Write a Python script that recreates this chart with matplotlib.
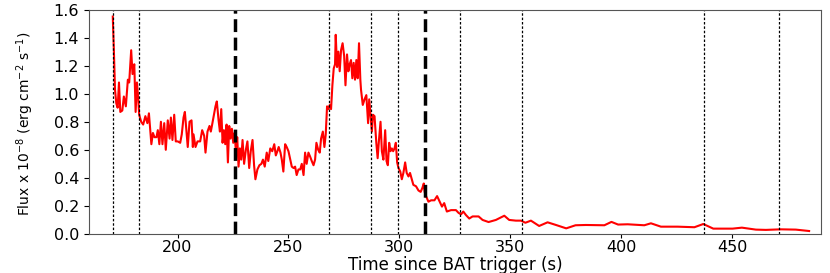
import numpy as np
import matplotlib
matplotlib.use('Agg')
import matplotlib.pyplot as plt

# light curve (time in s, flux in 1e-8 erg/cm2/s)
time = [170.8, 171.3, 171.8, 172.4, 173.0, 173.6, 174.2, 175.1, 175.8, 176.7,
        177.6, 178.2, 179.1, 179.7, 180.5, 181.1, 181.7, 182.3, 182.7, 183.6,
        184.5, 185.5, 186.4, 187.1, 188.2, 188.9, 189.6, 190.5, 191.1, 191.8,
        192.5, 193.2, 194.0, 194.7, 195.6, 196.4, 197.0, 197.7, 198.5, 199.2,
        200.1, 201.2, 201.9, 202.7, 203.3, 204.1, 204.6, 205.4, 206.3, 206.9,
        207.2, 208.1, 209.0, 210.2, 211.1, 212.0, 212.6, 213.5, 214.4, 215.0,
        215.6, 216.5, 217.1, 217.7, 218.5, 219.1, 219.7, 220.3, 220.9, 221.5,
        222.1, 222.7, 223.3, 223.9, 224.5, 225.1, 225.7, 226.3, 226.9, 227.5,
        228.1, 228.7, 229.3, 230.0, 230.8, 231.5, 232.3, 233.0, 233.8, 234.5,
        235.1, 236.0, 236.9, 237.8, 238.5, 239.3, 240.2, 240.9, 241.8, 242.7,
        243.6, 244.3, 245.0, 245.6, 246.4, 247.0, 247.7, 248.5, 249.2, 250.0,
        250.8, 251.5, 252.3, 253.0, 253.7, 254.5, 255.3, 256.0, 256.8, 257.5,
        258.2, 259.0, 259.8, 260.5, 261.3, 262.0, 262.6, 263.4, 264.1, 264.7,
        265.5, 266.2, 266.8, 267.4, 268.0, 268.6, 269.2, 269.8, 270.4, 271.0,
        271.3, 271.9, 272.5, 273.1, 273.7, 274.4, 275.1, 275.7, 276.4, 277.0,
        277.6, 278.2, 278.8, 279.4, 280.0, 280.6, 281.2, 281.8, 282.4, 282.7,
        283.5, 284.3, 285.1, 285.9, 286.4, 286.9, 287.6, 288.1, 288.8, 289.6,
        290.2, 290.8, 291.5, 292.1, 292.8, 293.6, 294.2, 294.8, 295.4, 296.0,
        296.6, 297.2, 297.8, 298.4, 299.0, 299.6, 300.4, 301.1, 301.8, 302.6,
        303.3, 304.1, 304.8, 305.6, 306.3, 307.5, 308.6, 309.6, 310.4, 311.0,
        311.4, 312.0, 313.1, 314.3, 315.8, 317.0, 318.2, 319.2, 320.2, 321.4,
        323.3, 325.5, 326.7, 327.8, 328.8, 330.0, 331.5, 333.0, 335.7, 337.5,
        340.2, 343.5, 347.3, 349.5, 352.5, 354.8, 356.8, 359.3, 363.0, 366.8,
        370.6, 375.2, 379.4, 384.1, 392.4, 395.6, 398.6, 402.9, 410.4, 413.4,
        417.9, 425.4, 433.0, 437.0, 441.5, 450.2, 454.4, 460.7, 465.2, 472.0,
        478.7, 484.7]
flux = [1.55, 1.31, 1.03, 0.93, 0.90, 1.08, 0.87, 0.88, 0.98, 0.91,
        1.10, 1.08, 1.31, 1.14, 1.21, 0.87, 1.08, 0.96, 0.85, 0.80,
        0.78, 0.84, 0.79, 0.86, 0.64, 0.72, 0.69, 0.69, 0.74, 0.64,
        0.80, 0.64, 0.79, 0.60, 0.81, 0.68, 0.83, 0.67, 0.85, 0.66,
        0.66, 0.65, 0.71, 0.83, 0.87, 0.72, 0.62, 0.80, 0.81, 0.62,
        0.71, 0.62, 0.66, 0.66, 0.74, 0.70, 0.58, 0.73, 0.77, 0.73,
        0.78, 0.86, 0.91, 0.945, 0.81, 0.73, 0.89, 0.65, 0.74, 0.64,
        0.78, 0.51, 0.77, 0.68, 0.75, 0.65, 0.72, 0.59, 0.69, 0.48,
        0.61, 0.53, 0.67, 0.50, 0.60, 0.66, 0.47, 0.59, 0.67, 0.49,
        0.39, 0.46, 0.49, 0.50, 0.53, 0.48, 0.58, 0.52, 0.61, 0.59,
        0.64, 0.56, 0.59, 0.62, 0.58, 0.53, 0.445, 0.64, 0.62, 0.59,
        0.53, 0.48, 0.47, 0.48, 0.42, 0.46, 0.46, 0.50, 0.42, 0.58,
        0.50, 0.58, 0.55, 0.52, 0.49, 0.53, 0.65, 0.60, 0.58, 0.68,
        0.73, 0.62, 0.71, 0.91, 0.89, 0.92, 0.89, 1.06, 1.18, 1.21,
        1.42, 1.19, 1.30, 1.16, 1.31, 1.36, 1.27, 1.06, 1.28, 1.16,
        1.21, 1.24, 1.11, 1.22, 1.10, 1.24, 1.11, 1.36, 1.10, 1.03,
        0.92, 0.96, 0.99, 0.79, 0.96, 0.86, 0.73, 0.85, 0.84, 0.65,
        0.54, 0.67, 0.80, 0.59, 0.53, 0.74, 0.52, 0.49, 0.65, 0.59,
        0.61, 0.59, 0.61, 0.65, 0.51, 0.47, 0.445, 0.39, 0.435, 0.51,
        0.435, 0.41, 0.435, 0.39, 0.35, 0.34, 0.31, 0.30, 0.33, 0.36,
        0.30, 0.27, 0.23, 0.24, 0.24, 0.27, 0.23, 0.195, 0.22, 0.16,
        0.17, 0.17, 0.15, 0.14, 0.16, 0.135, 0.11, 0.125, 0.125, 0.10,
        0.085, 0.10, 0.13, 0.10, 0.095, 0.095, 0.08, 0.095, 0.057, 0.083,
        0.064, 0.04, 0.062, 0.064, 0.062, 0.086, 0.067, 0.069, 0.062, 0.076,
        0.052, 0.052, 0.048, 0.071, 0.038, 0.038, 0.045, 0.031, 0.029, 0.033,
        0.031, 0.021]

# interval boundaries
thin_lines = [170.7, 182.4, 268.4, 287.3, 299.4, 327.2, 355.1, 437.1, 471.3]
thick_lines = [225.7, 311.4]

fig = plt.figure(figsize=(8.3, 2.73), dpi=100)
ax = fig.add_axes([0.107, 0.143, 0.882, 0.822])

ax.plot(time, flux, color='r', lw=1.5)
for t in thin_lines:
    ax.axvline(t, color='k', ls=(0, (2, 1.5)), lw=0.9)
for t in thick_lines:
    ax.axvline(t, color='k', ls='--', lw=2.5)

ax.set_xlim(160, 490)
ax.set_ylim(0, 1.6)
ax.set_yticks(np.arange(0, 1.61, 0.2))
ax.set_xticks([200, 250, 300, 350, 400, 450])
ax.tick_params(labelsize=11.5)
ax.tick_params(axis='x', pad=1, length=3)
for s in ax.spines.values():
    s.set_color('#555555')

ax.set_xlabel('Time since BAT trigger (s)', fontsize=12)
ax.xaxis.set_label_coords(0.5, -0.1)
ax.set_ylabel(r'Flux x 10$^{-8}$ (erg cm$^{-2}$ s$^{-1}$)', fontsize=10)
ax.yaxis.set_label_coords(-0.072, 0.49)

fig.savefig('out.png', dpi=100)
